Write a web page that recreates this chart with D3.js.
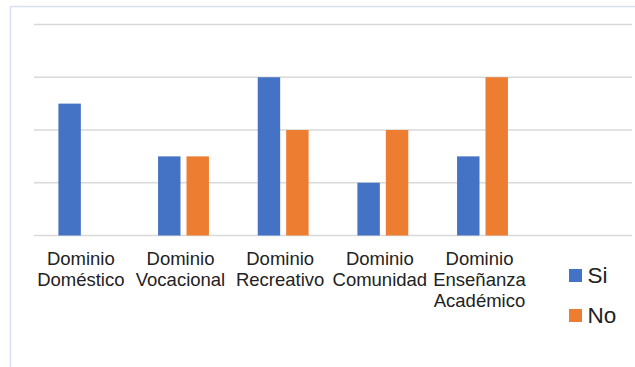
<!DOCTYPE html>
<html>
<head>
<meta charset="utf-8">
<script src="https://cdn.jsdelivr.net/npm/d3@7"></script>
<style>
  html, body { margin: 0; padding: 0; background: #fff; }
  svg { display: block; }
</style>
</head>
<body>
<svg id="chart" width="635" height="367"></svg>
<script>
// ---- data ----
const categories = [
  ["Dominio", "Doméstico"],
  ["Dominio", "Vocacional"],
  ["Dominio", "Recreativo"],
  ["Dominio", "Comunidad"],
  ["Dominio", "Enseñanza", "Académico"]
];
const seriesNames = ["Si", "No"];
const siValues = [2.5, 1.5, 3, 1, 1.5];
const noValues = [0, 1.5, 2, 2, 3];
const yTicks = [0, 1, 2, 3, 4];
const colors = ["#4472C4", "#ED7D31"];

// ---- layout ----
const svg = d3.select("#chart");
const plotLeft = 34, plotRight = 632, plotTop = 24.5, plotBottom = 235.5;
const step = (plotRight - plotLeft) / 6;

// chart border
svg.append("rect")
  .attr("x", 10.5).attr("y", 6.5)
  .attr("width", 700).attr("height", 420)
  .attr("fill", "none")
  .attr("stroke", "#d9e0ef")
  .attr("stroke-width", 1.5);

const y = d3.scaleLinear().domain([0, 4]).range([plotBottom, plotTop]);
const x0 = d3.scaleBand()
  .domain(d3.range(categories.length))
  .range([plotLeft, plotLeft + step * categories.length])
  .padding(0);
const x1 = d3.scaleBand()
  .domain(seriesNames)
  .range([24.4, step - 24.4])
  .paddingInner(0.211)
  .paddingOuter(0);

// gridlines
svg.append("g").selectAll("line")
  .data(yTicks)
  .join("line")
  .attr("x1", plotLeft).attr("x2", plotRight)
  .attr("y1", d => y(d)).attr("y2", d => y(d))
  .attr("stroke", "#d9d9d9")
  .attr("stroke-width", 1.5);

// bars
const table = categories.map((c, i) => ({ i, values: [siValues[i], noValues[i]] }));
const groups = svg.append("g").selectAll("g")
  .data(table)
  .join("g")
  .attr("transform", d => `translate(${x0(d.i)},0)`);
groups.selectAll("rect")
  .data(d => d.values.map((v, k) => ({ v, k })))
  .join("rect")
  .attr("x", d => x1(seriesNames[d.k]))
  .attr("width", x1.bandwidth())
  .attr("y", d => y(d.v))
  .attr("height", d => y(0) - y(d.v))
  .attr("fill", d => colors[d.k]);

// category labels
const labels = svg.append("g").selectAll("text")
  .data(categories)
  .join("text")
  .attr("text-anchor", "middle")
  .attr("font-family", "Liberation Sans, Arial, sans-serif")
  .attr("font-size", "18.5px")
  .attr("fill", "#222");
labels.each(function(d, i) {
  const cx = x0(i) + x0.bandwidth() / 2 - 3;
  d3.select(this).selectAll("tspan")
    .data(d)
    .join("tspan")
    .attr("x", cx)
    .attr("y", (t, j) => 264.5 + j * 21)
    .text(t => t);
});

// legend
const legend = svg.append("g").selectAll("g")
  .data(seriesNames)
  .join("g")
  .attr("transform", (d, i) => `translate(569,${269 + i * 40})`);
legend.append("rect")
  .attr("width", 13).attr("height", 13)
  .attr("fill", (d, i) => colors[i]);
legend.append("text")
  .attr("x", 18.5).attr("y", 14)
  .attr("font-family", "Liberation Sans, Arial, sans-serif")
  .attr("font-size", "22.5px")
  .attr("fill", "#222")
  .text(d => d);
</script>
</body>
</html>
